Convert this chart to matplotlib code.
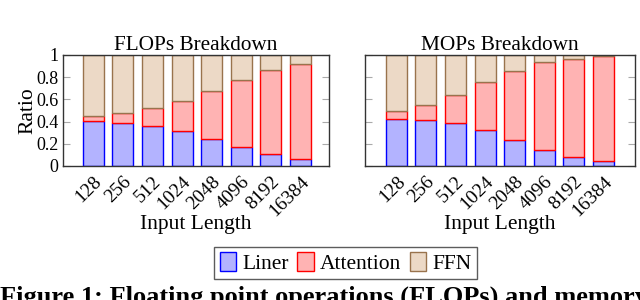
import matplotlib.pyplot as plt
import numpy as np

plt.rcParams['font.family'] = ['Liberation Serif', 'DejaVu Serif']

lengths = ['128', '256', '512', '1024', '2048', '4096', '8192', '16384']

flops_linear = [0.408, 0.387, 0.357, 0.312, 0.240, 0.168, 0.105, 0.060]
flops_attn = [0.045, 0.093, 0.163, 0.277, 0.436, 0.604, 0.757, 0.862]
flops_ffn = [1 - a - b for a, b in zip(flops_linear, flops_attn)]

mops_linear = [0.423, 0.414, 0.384, 0.324, 0.234, 0.147, 0.081, 0.045]
mops_attn = [0.072, 0.136, 0.259, 0.430, 0.625, 0.787, 0.886, 0.943]
mops_ffn = [1 - a - b for a, b in zip(mops_linear, mops_attn)]

series = ['Liner', 'Attention', 'FFN']
fills = [(0.7, 0.7, 1.0), (1.0, 0.7, 0.7), (0.925, 0.85, 0.775)]
edges = [(0, 0, 1), (1, 0, 0), (0.6, 0.45, 0.3)]

fig = plt.figure(figsize=(6.4, 3.0), dpi=100)
ax1 = fig.add_axes([0.098, 0.447, 0.416, 0.37])
ax2 = fig.add_axes([0.570, 0.447, 0.422, 0.37])

x = np.arange(len(lengths))
handles = []
for ax, parts, title, xl in [(ax1, [flops_linear, flops_attn, flops_ffn], 'FLOPs Breakdown', (-1.03, 7.96)),
                             (ax2, [mops_linear, mops_attn, mops_ffn], 'MOPs Breakdown', (-1.07, 8.07))]:
    bottom = np.zeros(len(lengths))
    handles = []
    for vals, fc, ec, name in zip(parts, fills, edges, series):
        b = ax.bar(x, vals, 0.71, bottom=bottom, color=fc, edgecolor=ec, linewidth=1.0, label=name)
        handles.append(b)
        bottom += np.array(vals)
    ax.set_xlim(*xl)
    ax.set_ylim(0, 1)
    ax.set_title(title, fontsize=15.3, pad=3)
    ax.set_xticks(x)
    ax.set_xticklabels(lengths, rotation=45, ha='right', rotation_mode='anchor', fontsize=14)
    ax.set_yticks([0, 0.2, 0.4, 0.6, 0.8, 1])
    ax.tick_params(axis='x', length=0, pad=5)
    ax.tick_params(axis='y', direction='in', left=True, right=True, length=5, color='#aaaaaa',
                   labelsize=13, pad=3)
    ax.set_xlabel('Input Length', fontsize=15.5, labelpad=-3)
    for s in ax.spines.values():
        s.set_color('#333333')
        s.set_linewidth(1.0)

ax1.set_yticklabels(['0', '0.2', '0.4', '0.6', '0.8', '1'])
ax1.set_ylabel('Ratio', fontsize=15.5, labelpad=-1)
ax2.set_yticklabels([])

leg = fig.legend(handles, series, loc='center', bbox_to_anchor=(0.54, 0.123), ncol=3, fontsize=15.5,
                 frameon=True, fancybox=False, edgecolor='#333333', handlelength=0.75, handleheight=1.0,
                 handletextpad=0.3, columnspacing=0.4, borderpad=0.25)
leg.get_frame().set_linewidth(1.0)

fig.text(0.0, -0.03, 'Figure 1: Floating point operations (FLOPs) and memory',
         fontsize=19, fontweight='bold', ha='left', va='bottom')

fig.savefig('out.png', dpi=100)
